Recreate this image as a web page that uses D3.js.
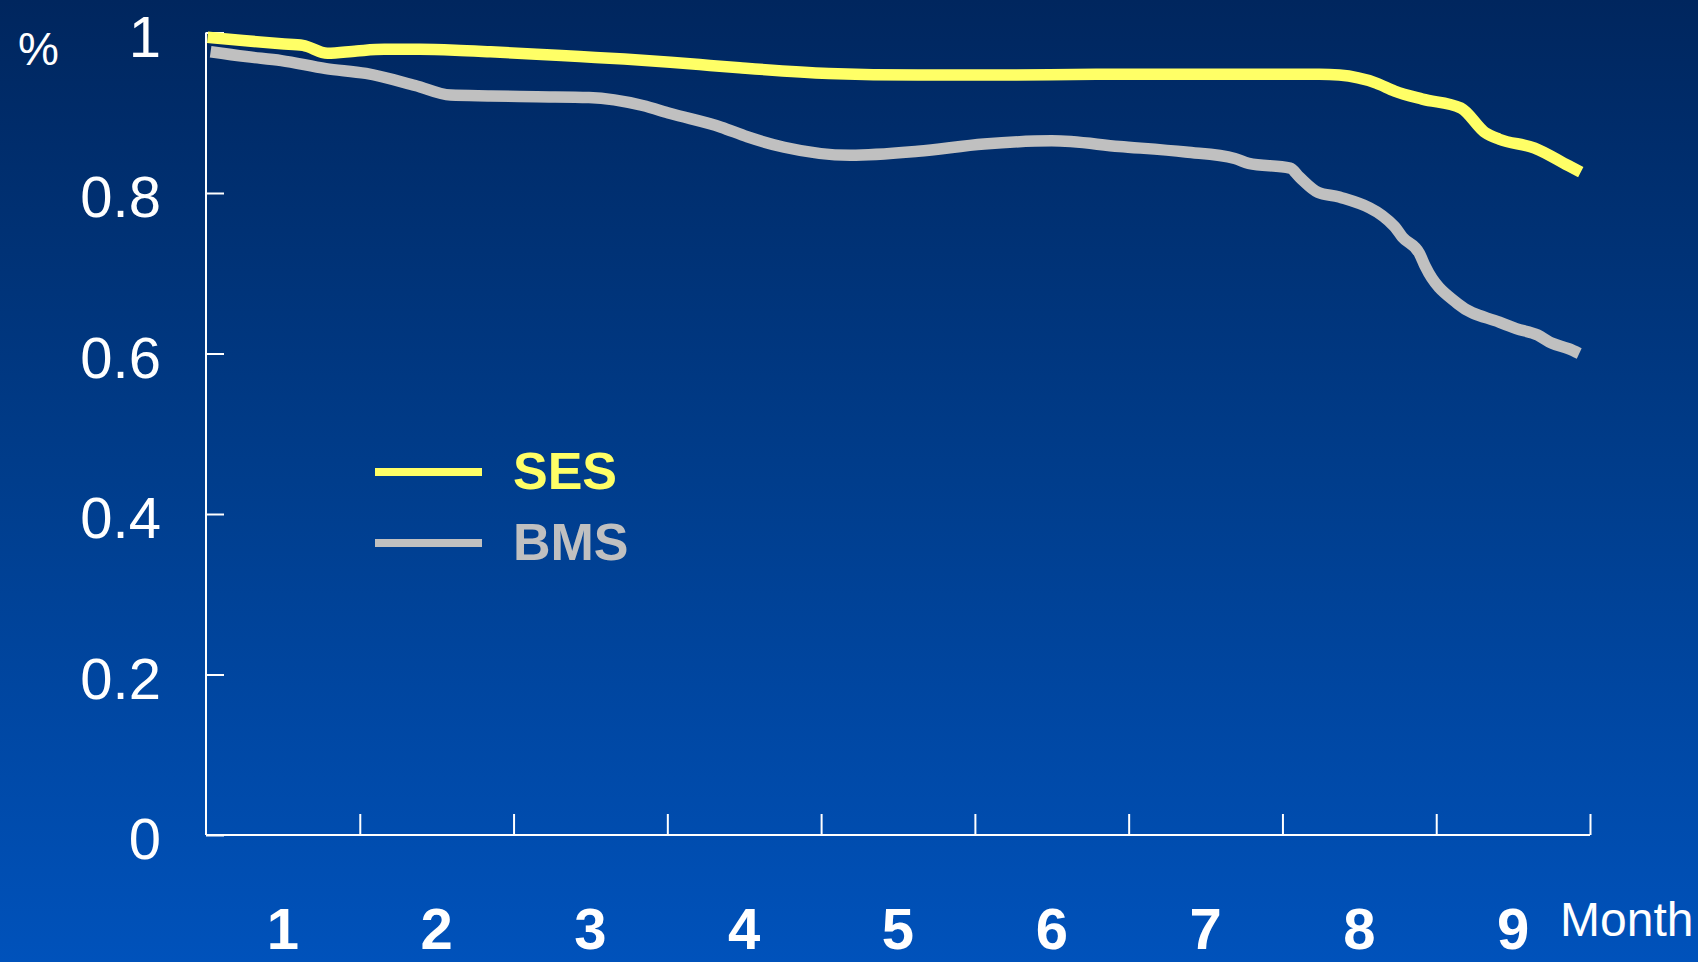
<!DOCTYPE html>
<html>
<head>
<meta charset="utf-8">
<script src="https://cdn.jsdelivr.net/npm/d3@7"></script>
<style>
  html, body { margin: 0; padding: 0; overflow: hidden; }
  svg { display: block; }
  text { font-family: "Liberation Sans", Arial, sans-serif; }
</style>
</head>
<body>
<svg id="chart" width="1698" height="962"></svg>
<script>
// Survival curves, time in months, fraction event-free
const sesMonths = [0.01, 0.24, 0.49, 0.63, 0.79, 0.98, 1.16, 1.39, 1.62, 1.85, 2.15, 2.43, 2.72, 3.02, 3.21, 3.47, 4.05, 4.63, 5.21, 5.79, 6.37, 7.24, 7.37, 7.61, 7.73, 7.91, 8.16, 8.32, 8.41, 8.64, 8.86, 8.94];
const sesValues = [0.994, 0.990, 0.986, 0.984, 0.974, 0.977, 0.979, 0.979, 0.978, 0.976, 0.973, 0.970, 0.967, 0.963, 0.960, 0.956, 0.949, 0.947, 0.947, 0.948, 0.948, 0.948, 0.947, 0.937, 0.927, 0.917, 0.906, 0.875, 0.867, 0.856, 0.834, 0.826];

const bmsMonths = [0.03, 0.26, 0.49, 0.78, 1.04, 1.36, 1.59, 1.85, 2.15, 2.49, 2.84, 3.02, 3.35, 3.52, 3.76, 4.19, 4.63, 5.06, 5.50, 5.94, 6.37, 6.69, 6.78, 7.05, 7.11, 7.23, 7.37, 7.73, 7.78, 7.89, 7.93, 8.14, 8.41, 8.52, 8.66, 8.75, 8.86, 8.93];
const bmsValues = [0.976, 0.970, 0.965, 0.955, 0.949, 0.934, 0.922, 0.921, 0.920, 0.919, 0.909, 0.899, 0.882, 0.870, 0.857, 0.847, 0.852, 0.861, 0.865, 0.858, 0.851, 0.843, 0.837, 0.831, 0.820, 0.801, 0.795, 0.758, 0.745, 0.725, 0.708, 0.662, 0.639, 0.631, 0.623, 0.613, 0.606, 0.600];

const monthLabels = ["1", "2", "3", "4", "5", "6", "7", "8", "9"];
const yTickValues = [0, 0.2, 0.4, 0.6, 0.8, 1];

const seriesNames = ["SES", "BMS"];
const seriesColors = ["#ffff66", "#c0c0c0"];

const svg = d3.select("#chart");
const W = 1698, H = 962;

// background gradient
const defs = svg.append("defs");
const grad = defs.append("linearGradient")
  .attr("id", "bg").attr("x1", 0).attr("y1", 0).attr("x2", 0).attr("y2", 1);
grad.append("stop").attr("offset", "0%").attr("stop-color", "#00265e");
grad.append("stop").attr("offset", "50%").attr("stop-color", "#003d8c");
grad.append("stop").attr("offset", "100%").attr("stop-color", "#0052bb");
svg.append("rect").attr("width", W).attr("height", H).attr("fill", "url(#bg)");

const plotLeft = 206, plotRight = 1590, plotTop = 32.5, plotBottom = 835;

const x = d3.scaleLinear().domain([0, monthLabels.length]).range([plotLeft, plotRight]);
const y = d3.scaleLinear().domain([0, 1]).range([plotBottom, plotTop]);

const axisColor = "#ffffff";

// y axis with inward ticks
const yAxis = svg.append("g").attr("transform", `translate(${plotLeft},0)`)
  .call(d3.axisRight(y).tickValues(yTickValues).tickSize(18).tickFormat(""));
yAxis.select(".domain").attr("d", `M0,${plotTop}V${plotBottom}`);
yAxis.selectAll("path, line").attr("stroke", axisColor).attr("stroke-width", 2);

// x axis: ticks at month boundaries pointing up
const xAxis = svg.append("g").attr("transform", `translate(0,${plotBottom})`)
  .call(d3.axisTop(x).tickValues(d3.range(1, monthLabels.length + 1)).tickSize(21).tickFormat(""));
xAxis.select(".domain").attr("d", `M${plotLeft},0H${plotRight}`);
xAxis.selectAll("path, line").attr("stroke", axisColor).attr("stroke-width", 2);

// y tick labels
svg.append("g").selectAll("text")
  .data(yTickValues)
  .join("text")
  .attr("x", 161)
  .attr("y", d => y(d) + 24)
  .attr("text-anchor", "end")
  .attr("fill", "#ffffff")
  .attr("font-size", 58)
  .text(d => d === 0 || d === 1 ? String(d) : d3.format(".1f")(d));

// month labels centred in each interval
svg.append("g").selectAll("text")
  .data(monthLabels)
  .join("text")
  .attr("x", (d, i) => x(i + 0.5))
  .attr("y", 949)
  .attr("text-anchor", "middle")
  .attr("fill", "#ffffff")
  .attr("font-size", 58)
  .attr("font-weight", "bold")
  .text(d => d);

svg.append("text")
  .attr("x", 1560).attr("y", 936)
  .attr("fill", "#ffffff").attr("font-size", 48)
  .text("Month");

svg.append("text")
  .attr("x", 18).attr("y", 65)
  .attr("fill", "#ffffff").attr("font-size", 46)
  .text("%");

// curves
const line = d3.line()
  .x(d => x(d[0]))
  .y(d => y(d[1]))
  .curve(d3.curveMonotoneX);

const series = [
  d3.zip(bmsMonths, bmsValues),
  d3.zip(sesMonths, sesValues)
];
const seriesColorOrder = [seriesColors[1], seriesColors[0]];

svg.append("g").selectAll("path")
  .data(series)
  .join("path")
  .attr("d", line)
  .attr("fill", "none")
  .attr("stroke", (d, i) => seriesColorOrder[i])
  .attr("stroke-width", 11.5)
  .attr("stroke-linejoin", "round");

// legend
const legend = svg.append("g");
const legendRows = [472, 543];
seriesNames.forEach((name, i) => {
  legend.append("line")
    .attr("x1", 375).attr("x2", 482)
    .attr("y1", legendRows[i]).attr("y2", legendRows[i])
    .attr("stroke", seriesColors[i]).attr("stroke-width", 8);
  legend.append("text")
    .attr("x", 513).attr("y", legendRows[i] + 17)
    .attr("fill", seriesColors[i])
    .attr("font-size", 52)
    .attr("font-weight", "bold")
    .text(name);
});
</script>
</body>
</html>
